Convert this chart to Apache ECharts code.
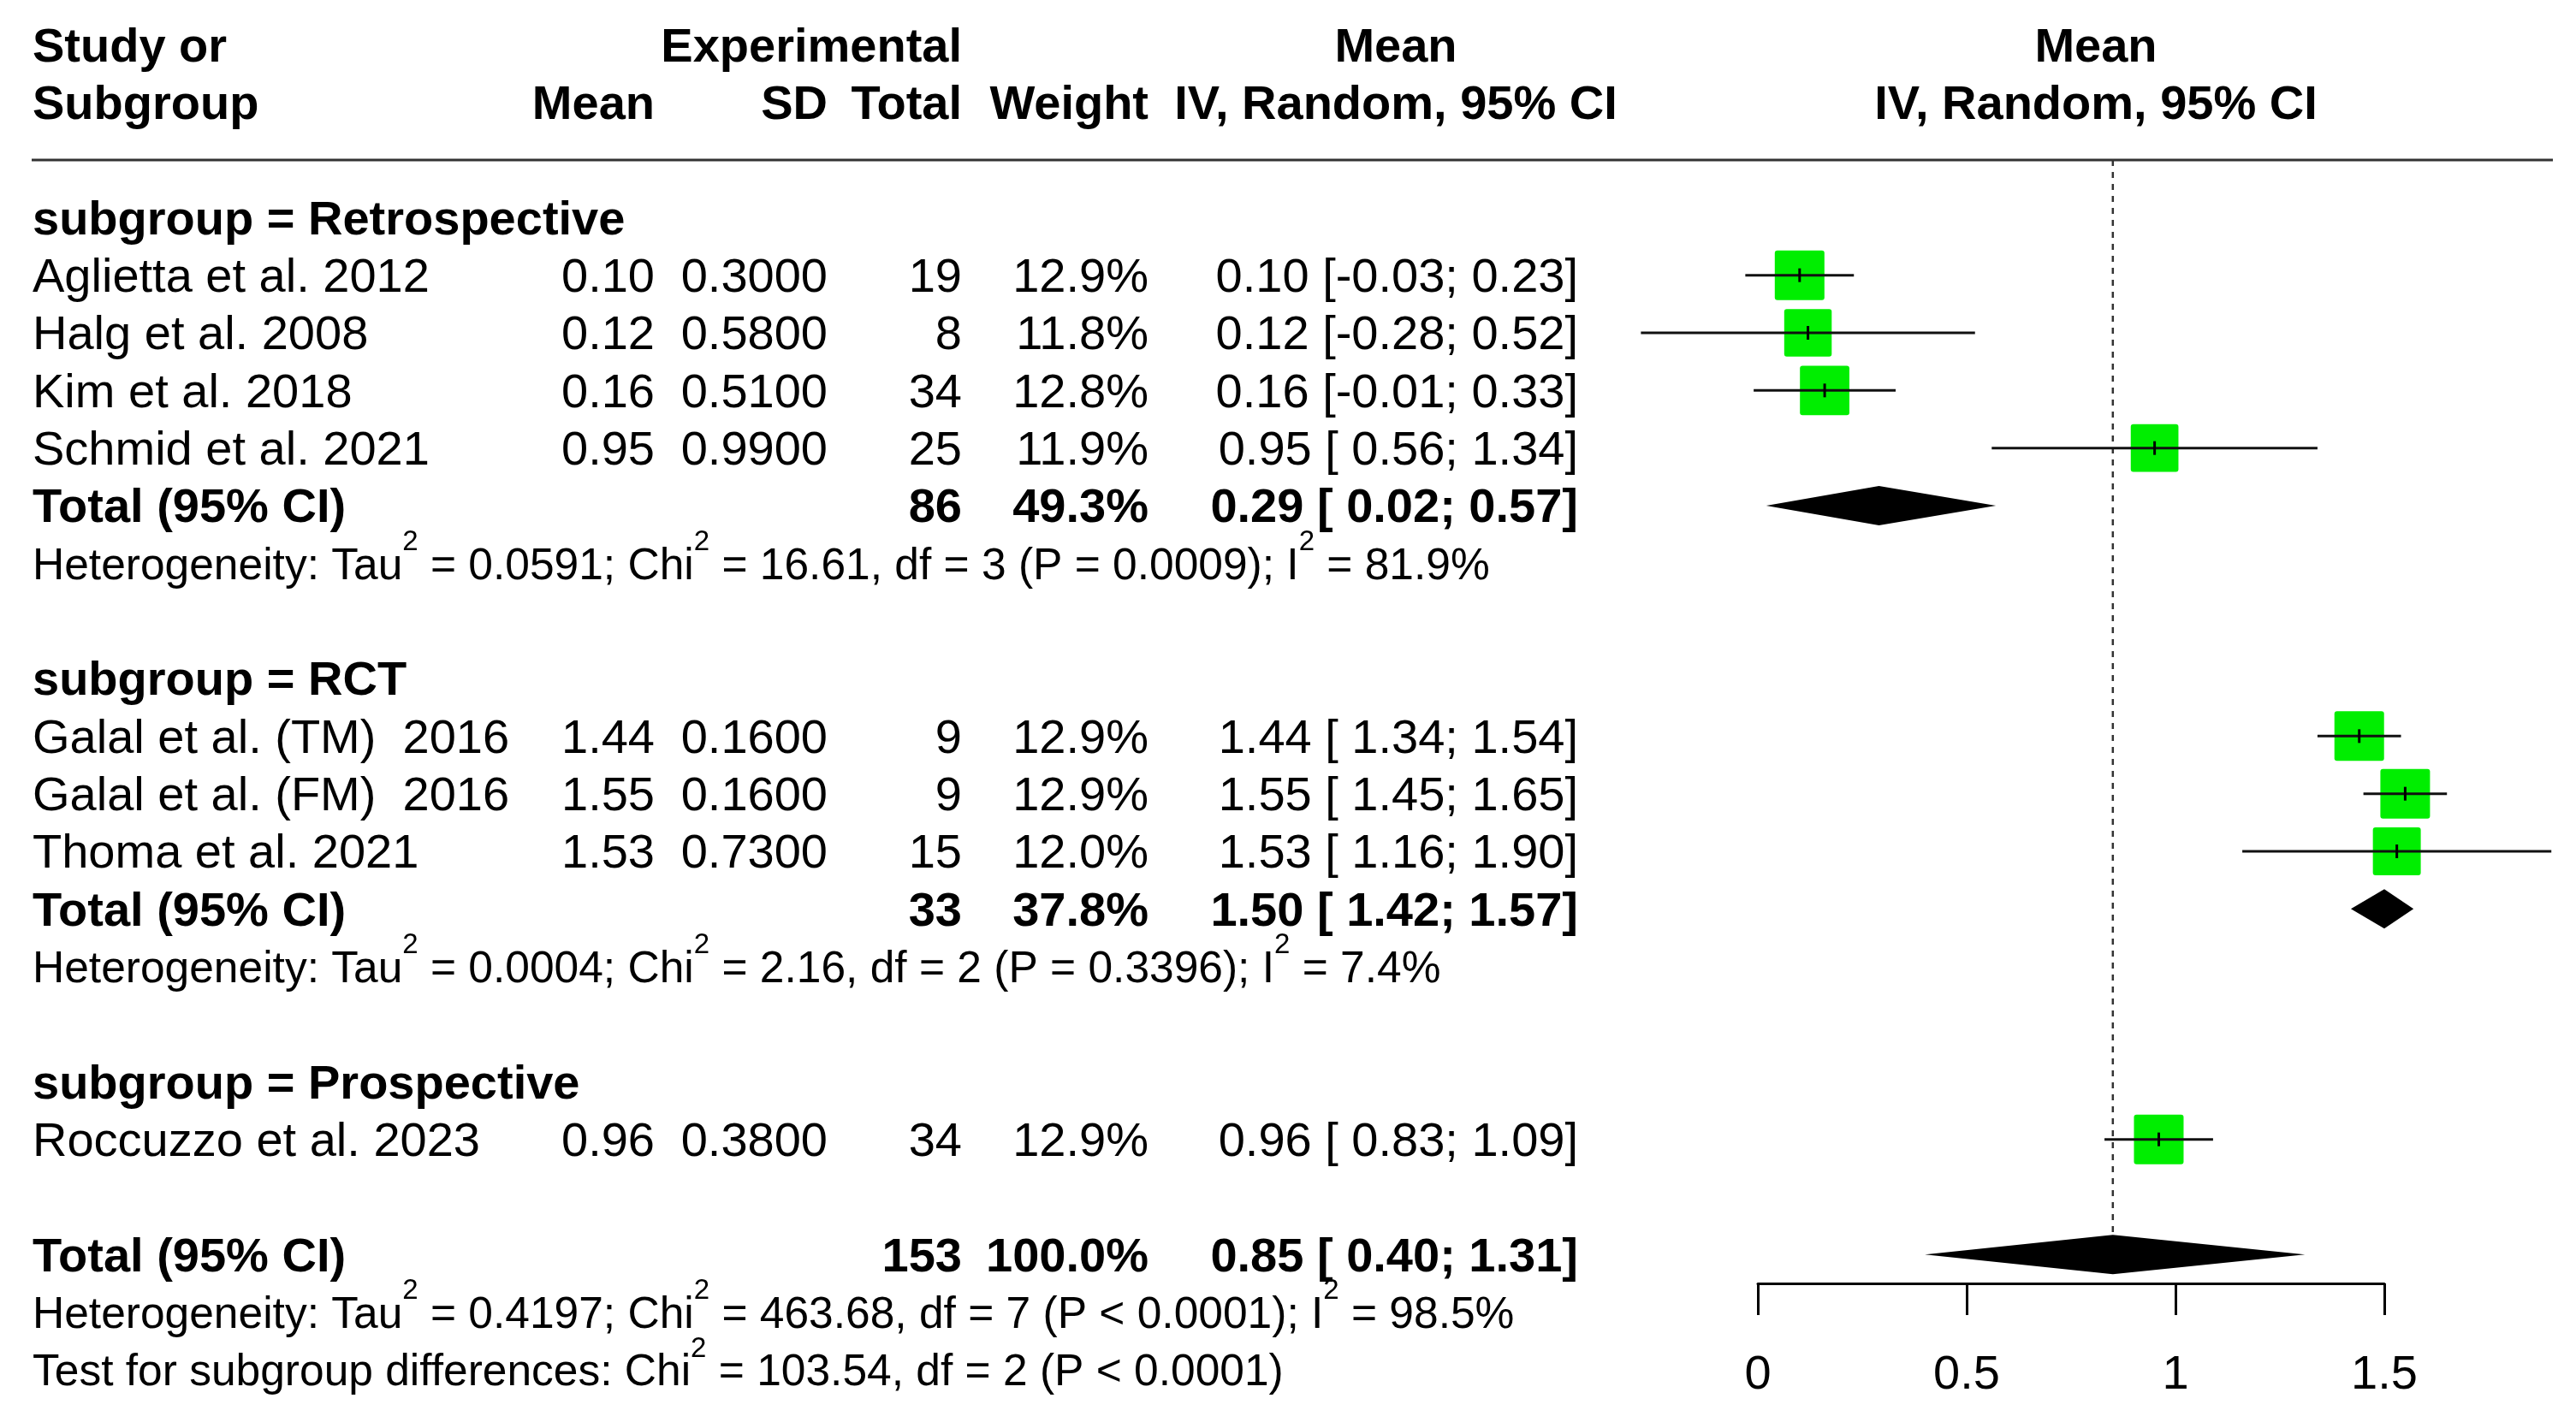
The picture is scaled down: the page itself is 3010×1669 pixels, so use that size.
<!DOCTYPE html>
<html lang="en">
<head>
<meta charset="UTF-8">
<title>Forest plot</title>
<style>
    html, body { margin: 0; padding: 0; background: #fff; }
    #main { width: 3010px; height: 1669px; }
</style>
</head>
<body>
<div id="main"></div>
<script src="https://cdn.jsdelivr.net/npm/echarts@6/dist/echarts.min.js"></script>
<script>
// studies
var studyNames = ['Aglietta et al. 2012', 'Halg et al. 2008', 'Kim et al. 2018', 'Schmid et al. 2021',
    'Galal et al. (TM)  2016', 'Galal et al. (FM)  2016', 'Thoma et al. 2021', 'Roccuzzo et al. 2023'];
var studyGroup = [0, 0, 0, 0, 1, 1, 1, 2];
var studyMean = [0.10, 0.12, 0.16, 0.95, 1.44, 1.55, 1.53, 0.96];
var studySD = [0.30, 0.58, 0.51, 0.99, 0.16, 0.16, 0.73, 0.38];
var studyN = [19, 8, 34, 25, 9, 9, 15, 34];
var studyWeight = [12.9, 11.8, 12.8, 11.9, 12.9, 12.9, 12.0, 12.9];
var studyLow = [-0.03, -0.28, -0.01, 0.56, 1.34, 1.45, 1.16, 0.83];
var studyHigh = [0.23, 0.52, 0.33, 1.34, 1.54, 1.65, 1.90, 1.09];

// subgroups (Prospective has one study, so no pooled row)
var groupNames = ['Retrospective', 'RCT', 'Prospective'];
var groupN = [86, 33, null];
var groupWeight = [49.3, 37.8, null];
var groupMean = [0.29, 1.50, null];
var groupLow = [0.02, 1.42, null];
var groupHigh = [0.57, 1.57, null];
var groupTau2 = ['0.0591', '0.0004', null];
var groupChi2 = ['16.61', '2.16', null];
var groupDf = [3, 2, null];
var groupP = ['= 0.0009', '= 0.3396', null];
var groupI2 = ['81.9%', '7.4%', null];

// overall
var totalN = 153, totalWeight = 100.0, totalMean = 0.85, totalLow = 0.40, totalHigh = 1.31;
var totalTau2 = '0.4197', totalChi2 = '463.68', totalDf = 7, totalP = '< 0.0001', totalI2 = '98.5%';
var diffChi2 = '103.54', diffDf = 2, diffP = '< 0.0001';

var axisTicks = [0, 0.5, 1, 1.5];

// layout
var FONT = '"Liberation Sans", Arial, Helvetica, sans-serif';
var FS = 56, FS_HET = 51.5, FS_SUP = 33;
var GREEN = '#00ee00';
var SQ = 58;          // square side for 12.9% weight
var DIA_H = 23;       // diamond half height
var TY = 4;           // text baseline nudge
var X_NAME = 38, X_MEAN = 765, X_SD = 967, X_TOT = 1124, X_W = 1342, X_CI = 1844;
var X_CIHEAD = 1631, X_PLOTHEAD = 2449, LINE_L = 37, LINE_R = 2983;

function f2(v) { return v.toFixed(2); }
function ciText(m, lo, hi) {
    return f2(m) + ' [' + (lo < 0 ? '' : ' ') + f2(lo) + '; ' + f2(hi) + ']';
}
function hetText(tau, chi, df, p, i2) {
    return 'Heterogeneity: Tau^2 = ' + tau + '; Chi^2 = ' + chi + ', df = ' + df + ' (P ' + p + '); I^2 = ' + i2;
}

// rows of the table
var rows = [];
var studyRow = [], groupRow = [];
var r = 0;
groupNames.forEach(function (g, gi) {
    rows.push({ r: r++, kind: 'group', idx: gi });
    studyNames.forEach(function (s, si) {
        if (studyGroup[si] === gi) {
            studyRow[si] = r;
            rows.push({ r: r++, kind: 'study', idx: si });
        }
    });
    if (groupTau2[gi] !== null) {
        groupRow[gi] = r;
        rows.push({ r: r++, kind: 'gtotal', idx: gi });
        rows.push({ r: r++, kind: 'ghet', idx: gi });
    }
    r++;
});
var totalRow = r;
rows.push({ r: r++, kind: 'total' });
rows.push({ r: r++, kind: 'thet' });
rows.push({ r: r++, kind: 'test' });
rows.push({ r: -3, kind: 'head1' });
rows.push({ r: -2, kind: 'head2' });

function txt(x, y, s, align, bold, size) {
    return {
        type: 'text', x: x, y: y + TY, silent: true,
        style: {
            text: s, fill: '#000', align: align || 'left', verticalAlign: 'middle',
            fontFamily: FONT, fontSize: size || FS, fontWeight: bold ? 'bold' : 'normal'
        }
    };
}
function supTxt(x, y, s) {
    var rich = '{n|' + s.split('^2').join('}{s|2}{n|') + '}';
    return {
        type: 'text', x: x, y: y + TY, silent: true,
        style: {
            text: rich, align: 'left', verticalAlign: 'middle',
            rich: {
                n: { fontFamily: FONT, fontSize: FS_HET, fill: '#000', lineHeight: 90 },
                s: { fontFamily: FONT, fontSize: FS_SUP, fill: '#000', verticalAlign: 'top' }
            }
        }
    };
}

function renderTable(params, api) {
    var row = rows[params.dataIndex];
    var y = api.coord([0, row.r])[1];
    var i = row.idx, c = [];
    if (row.kind === 'head1') {
        c.push(txt(X_NAME, y, 'Study or', 'left', true));
        c.push(txt(X_TOT, y, 'Experimental', 'right', true));
        c.push(txt(X_CIHEAD, y, 'Mean', 'center', true));
        c.push(txt(X_PLOTHEAD, y, 'Mean', 'center', true));
    } else if (row.kind === 'head2') {
        c.push(txt(X_NAME, y, 'Subgroup', 'left', true));
        c.push(txt(X_MEAN, y, 'Mean', 'right', true));
        c.push(txt(X_SD, y, 'SD', 'right', true));
        c.push(txt(X_TOT, y, 'Total', 'right', true));
        c.push(txt(X_W, y, 'Weight', 'right', true));
        c.push(txt(X_CIHEAD, y, 'IV, Random, 95% CI', 'center', true));
        c.push(txt(X_PLOTHEAD, y, 'IV, Random, 95% CI', 'center', true));
        var ly = api.coord([0, -1])[1];
        c.push({ type: 'line', silent: true, shape: { x1: LINE_L, y1: ly, x2: LINE_R, y2: ly },
            style: { stroke: '#333', lineWidth: 3 } });
    } else if (row.kind === 'group') {
        c.push(txt(X_NAME, y, 'subgroup = ' + groupNames[i], 'left', true));
    } else if (row.kind === 'study') {
        c.push(txt(X_NAME, y, studyNames[i]));
        c.push(txt(X_MEAN, y, f2(studyMean[i]), 'right'));
        c.push(txt(X_SD, y, studySD[i].toFixed(4), 'right'));
        c.push(txt(X_TOT, y, String(studyN[i]), 'right'));
        c.push(txt(X_W, y, studyWeight[i].toFixed(1) + '%', 'right'));
        c.push(txt(X_CI, y, ciText(studyMean[i], studyLow[i], studyHigh[i]), 'right'));
    } else if (row.kind === 'gtotal') {
        c.push(txt(X_NAME, y, 'Total (95% CI)', 'left', true));
        c.push(txt(X_TOT, y, String(groupN[i]), 'right', true));
        c.push(txt(X_W, y, groupWeight[i].toFixed(1) + '%', 'right', true));
        c.push(txt(X_CI, y, ciText(groupMean[i], groupLow[i], groupHigh[i]), 'right', true));
    } else if (row.kind === 'ghet') {
        c.push(supTxt(X_NAME, y, hetText(groupTau2[i], groupChi2[i], groupDf[i], groupP[i], groupI2[i])));
    } else if (row.kind === 'total') {
        c.push(txt(X_NAME, y, 'Total (95% CI)', 'left', true));
        c.push(txt(X_TOT, y, String(totalN), 'right', true));
        c.push(txt(X_W, y, totalWeight.toFixed(1) + '%', 'right', true));
        c.push(txt(X_CI, y, ciText(totalMean, totalLow, totalHigh), 'right', true));
    } else if (row.kind === 'thet') {
        c.push(supTxt(X_NAME, y, hetText(totalTau2, totalChi2, totalDf, totalP, totalI2)));
    } else if (row.kind === 'test') {
        c.push(supTxt(X_NAME, y, 'Test for subgroup differences: Chi^2 = ' + diffChi2 + ', df = ' + diffDf + ' (P ' + diffP + ')'));
    }
    return { type: 'group', children: c };
}

function renderStudy(params, api) {
    var row = api.value(1);
    var c = api.coord([api.value(0), row]);
    var lo = api.coord([api.value(2), row]);
    var hi = api.coord([api.value(3), row]);
    var side = SQ * Math.sqrt(api.value(4) / 12.9);
    return {
        type: 'group', children: [
            { type: 'rect', shape: { x: c[0] - side / 2, y: c[1] - side / 2, width: side, height: side, r: 3 },
                style: { fill: GREEN } },
            { type: 'line', shape: { x1: lo[0], y1: lo[1], x2: hi[0], y2: hi[1] },
                style: { stroke: '#111', lineWidth: 3 } },
            { type: 'line', shape: { x1: c[0], y1: c[1] - 8, x2: c[0], y2: c[1] + 8 },
                style: { stroke: '#000', lineWidth: 3 } }
        ]
    };
}

function renderDiamond(params, api) {
    var row = api.value(1);
    var c = api.coord([api.value(0), row]);
    var lo = api.coord([api.value(2), row]);
    var hi = api.coord([api.value(3), row]);
    return {
        type: 'polygon',
        shape: { points: [[lo[0], c[1]], [c[0], c[1] - DIA_H], [hi[0], c[1]], [c[0], c[1] + DIA_H]] },
        style: { fill: '#000' }
    };
}

function renderRef(params, api) {
    var top = api.coord([api.value(0), -1]);
    var bot = api.coord([api.value(0), api.value(1)]);
    return {
        type: 'line',
        shape: { x1: top[0], y1: top[1], x2: bot[0], y2: bot[1] - DIA_H },
        style: { stroke: '#333', lineWidth: 2.5, lineDash: [7, 7] }
    };
}

var studyData = studyNames.map(function (s, i) {
    return [studyMean[i], studyRow[i], studyLow[i], studyHigh[i], studyWeight[i]];
});
var diamondData = [];
groupNames.forEach(function (g, gi) {
    if (groupMean[gi] !== null) diamondData.push([groupMean[gi], groupRow[gi], groupLow[gi], groupHigh[gi]]);
});
diamondData.push([totalMean, totalRow, totalLow, totalHigh]);

var chart = echarts.init(document.getElementById('main'));
var option = {
    animation: false,
    backgroundColor: '#fff',
    grid: { left: 2054, top: 187, width: 732, height: 1313, containLabel: false, outerBoundsMode: 'none' },
    xAxis: {
        type: 'value',
        min: axisTicks[0],
        max: axisTicks[axisTicks.length - 1],
        interval: axisTicks[1] - axisTicks[0],
        axisLine: { show: true, onZero: false, lineStyle: { color: '#000', width: 3 } },
        axisTick: { show: true, length: 37, lineStyle: { color: '#000', width: 3 } },
        axisLabel: { fontFamily: FONT, fontSize: FS, color: '#000', margin: 108, verticalAlign: 'middle' },
        splitLine: { show: false }
    },
    yAxis: { type: 'value', inverse: true, min: -1, max: 18.5, show: false },
    series: [
        {
            type: 'custom', name: 'ref', clip: false, silent: true,
            data: [[totalMean, totalRow]], encode: { x: 0, y: 1 },
            renderItem: renderRef, z: 1
        },
        {
            type: 'custom', name: 'studies', clip: false, silent: true,
            data: studyData, encode: { x: [0, 2, 3], y: 1 },
            renderItem: renderStudy, z: 2
        },
        {
            type: 'custom', name: 'pooled', clip: false, silent: true,
            data: diamondData, encode: { x: [0, 2, 3], y: 1 },
            renderItem: renderDiamond, z: 3
        },
        {
            type: 'custom', name: 'table', clip: false, silent: true,
            data: rows.map(function (o) { return [0, o.r]; }), encode: { x: 0, y: 1 },
            renderItem: renderTable, z: 4
        }
    ]
};
chart.setOption(option);
</script>
</body>
</html>
